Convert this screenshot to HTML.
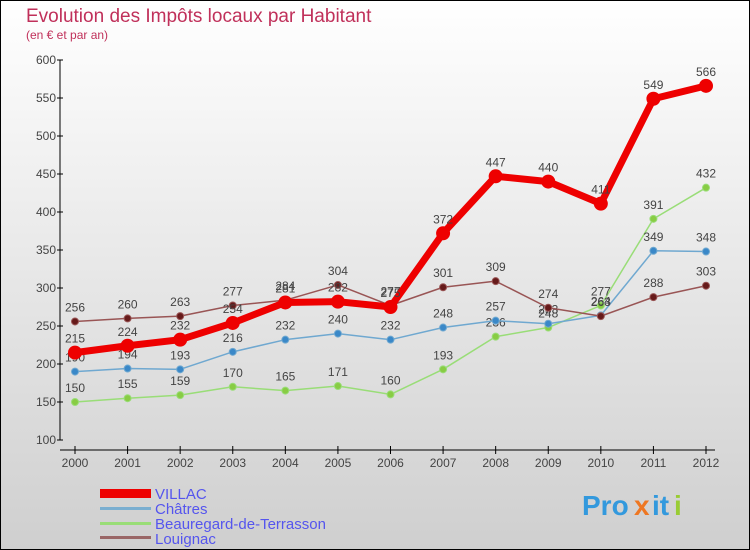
<!DOCTYPE html>
<html><head><meta charset="utf-8"><style>
body{margin:0}
svg{display:block;font-family:"Liberation Sans",sans-serif}
</style></head><body>
<svg id="c" width="750" height="550">
<defs><linearGradient id="bg" x1="0" y1="0" x2="0" y2="1"><stop offset="0" stop-color="#ffffff"/><stop offset="1" stop-color="#cfcfcf"/></linearGradient></defs>
<rect x="0.5" y="0.5" width="749" height="549" fill="url(#bg)" stroke="#000"/>
<text x="26" y="22" font-size="19" fill="#c0305a">Evolution des Impôts locaux par Habitant</text>
<text x="26" y="39" font-size="12" fill="#c0305a">(en € et par an)</text>
<g id="axes"></g><g id="series"></g>
<g>
<rect x="100" y="489" width="51" height="9" fill="#e00"/>
<text x="155" y="499" font-size="15" fill="#5555ee">VILLAC</text>
<rect x="100" y="507" width="51" height="3" fill="#7aaed0"/>
<text x="155" y="514" font-size="15" fill="#5555ee">Châtres</text>
<rect x="100" y="522" width="51" height="3" fill="#99dd77"/>
<text x="155" y="529" font-size="15" fill="#5555ee">Beauregard-de-Terrasson</text>
<rect x="100" y="536" width="51" height="3" fill="#996666"/>
<text x="155" y="544" font-size="15" fill="#5555ee">Louignac</text>
</g>
<g font-size="28" font-weight="bold">
<text x="582" y="515" fill="#3399dd">Pro</text><text x="634" y="515" fill="#ee7722">x</text><text x="652" y="515" fill="#3399dd">it</text><text x="674" y="515" fill="#99cc33">i</text>
</g>
</svg>
<script>
const years=[2000,2001,2002,2003,2004,2005,2006,2007,2008,2009,2010,2011,2012];
const yTicks=[100,150,200,250,300,350,400,450,500,550,600];
const villac=[215,224,232,254,281,282,275,372,447,440,411,549,566];
const chatres=[190,194,193,216,232,240,232,248,257,253,264,349,348];
const beauregard=[150,155,159,170,165,171,160,193,236,248,277,391,432];
const louignac=[256,260,263,277,284,304,277,301,309,274,263,288,303];
const NS="http://www.w3.org/2000/svg";
const X=i=>75+i*(706-75)/12;
const Y=v=>60+(600-v)*380/500;
function mk(t,a,p){const e=document.createElementNS(NS,t);for(const k in a)e.setAttribute(k,a[k]);p.appendChild(e);return e;}
const ax=document.getElementById('axes');
const yl=mk('line',{x1:60,y1:60,x2:60,y2:440,stroke:'#000'},ax);


yTicks.forEach(v=>{
 mk('line',{x1:57,x2:63,y1:Y(v),y2:Y(v),stroke:'#000'},ax);
 const t=mk('text',{x:56,y:Y(v)+4,'text-anchor':'end','font-size':12,fill:'#444'},ax);t.textContent=v;
 
 
});
const xl=mk('line',{x1:60,y1:450,x2:715,y2:450,stroke:'#000'},ax);


years.forEach((y,i)=>{
 mk('line',{x1:X(i),x2:X(i),y1:446,y2:454,stroke:'#000'},ax);
 const t=mk('text',{x:X(i),y:467,'text-anchor':'middle','font-size':12,fill:'#444'},ax);t.textContent=y;
 
 
});
const sg=document.getElementById('series');
function series(name,data,color,dot,w,r){
 const g=mk('g',{},sg);
 
 
 mk('polyline',{points:data.map((v,i)=>X(i)+','+Y(v)).join(' '),fill:'none',stroke:color,'stroke-width':w,'stroke-linejoin':'round'},g);
 data.forEach((v,i)=>{
  const c=mk('circle',{cx:X(i),cy:Y(v),r:r,fill:dot,stroke:color,'stroke-width':1},g);
  
  
  const t=mk('text',{x:X(i),y:Y(v)-10,'text-anchor':'middle','font-size':12,fill:'#444'},g);t.textContent=v;
  
  
 });
}
series('beauregard',beauregard,'#99dd77','#88cc44',1.5,3.5);
series('chatres',chatres,'#6fa8d0','#3a88c8',1.5,3.5);
series('louignac',louignac,'#995555','#661a1a',1.5,3.5);
series('villac',villac,'#ee0000','#ee0000',7,6.5);
</script>
</body></html>
